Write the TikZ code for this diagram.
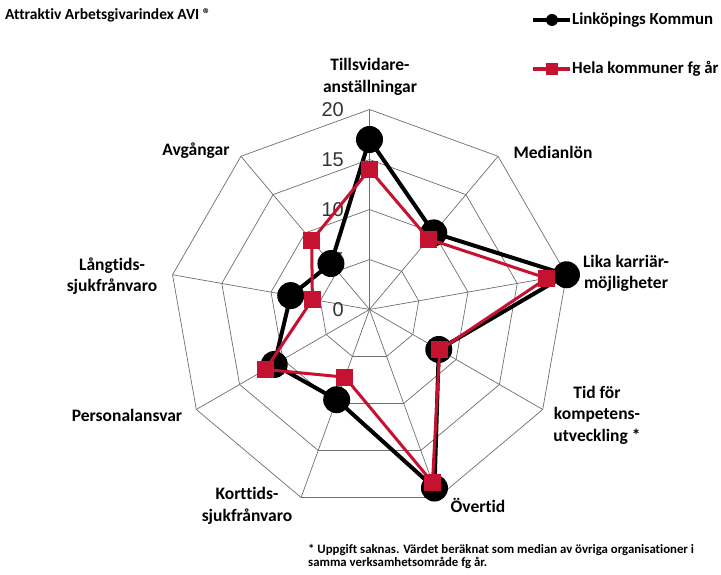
\documentclass[tikz,border=0pt]{standalone}
\usepackage{fontspec}
\setmainfont{Carlito}[Ligatures=NoCommon]
\newfontfamily\numfont{Liberation Sans}
\usetikzlibrary{calc}
\definecolor{avired}{RGB}{196,18,48}
\definecolor{gridgray}{RGB}{110,110,110}
\begin{document}
\begin{tikzpicture}[x=1pt,y=1pt,
  grid/.style={draw=gridgray, line width=0.7pt},
  lab/.style={font=\fontsize{17.5}{21.5}\selectfont\bfseries, align=center, text=black, inner sep=0pt},
  num/.style={font=\numfont\fontsize{20}{20}\selectfont, text=black!80, anchor=east, inner sep=0pt},
  blk/.style={draw=black, line width=4pt, line join=round},
  redl/.style={draw=avired, line width=3pt, line join=round},
  bdot/.style={circle, fill=black, minimum size=27pt, inner sep=0pt},
  rsq/.style={rectangle, fill=avired, minimum size=17pt, inner sep=0pt},
  lbdot/.style={circle, fill=black, minimum size=12pt, inner sep=0pt},
  lrsq/.style={rectangle, fill=avired, minimum size=12pt, inner sep=0pt},
  legtext/.style={font=\fontsize{16.8}{20}\selectfont\bfseries, anchor=west, inner sep=0pt}]
\useasboundingbox (0,0) rectangle (721,575);
\coordinate (C) at (369.5,265.5);
% grid rings
\foreach \r in {50,100,150,200} {
  \draw[grid] ($(C)+(90:\r)$) -- ($(C)+(50:\r)$) -- ($(C)+(10:\r)$) -- ($(C)+(-30:\r)$) -- ($(C)+(-70:\r)$) -- ($(C)+(-110:\r)$) -- ($(C)+(-150:\r)$) -- ($(C)+(-190:\r)$) -- ($(C)+(-230:\r)$) -- cycle;
}
% spokes
\foreach \k in {0,...,8} {
  \coordinate (s\k) at ($(C)+(90-40*\k:200)$);
  \draw[grid] (C) -- (s\k);
}
% scale numbers
\node[num] (n0) at (344,265.5) {0};
\node[num] (n5) at (344,315.5) {5};
\node[num] (n10) at (344,365.5) {10};
\node[num] (n15) at (344,415.5) {15};
\node[num] (n20) at (344,465.5) {20};
% data
\foreach \v [count=\i from 0] in {17,10,20,8,19,9.6,11,8,6}
  \coordinate (b\i) at ($(C)+(90-40*\i:10*\v)$);
\foreach \v [count=\i from 0] in {14,9.2,18,8.1,18.4,7.2,12,5.8,9}
  \coordinate (r\i) at ($(C)+(90-40*\i:10*\v)$);
\draw[blk] (b0) -- (b1) -- (b2) -- (b3) -- (b4) -- (b5) -- (b6) -- (b7) -- (b8) -- cycle;
\foreach \i in {0,...,8} \node[bdot] (bm\i) at (b\i) {};
\draw[redl] (r0) -- (r1) -- (r2) -- (r3) -- (r4) -- (r5) -- (r6) -- (r7) -- (r8) -- cycle;
\foreach \i in {0,...,8} \node[rsq] (rm\i) at (r\i) {};
% axis labels
\node[lab] (l0) at (370,498) {Tillsvidare-\\anställningar};
\node[lab] (l1) at (553,423) {Medianlön};
\node[lab] (l2) at (626,301.5) {Lika karriär-\\möjligheter};
\node[lab] (l3) at (597,160) {Tid för\\kompetens-\\utveckling *};
\node[lab] (l4) at (478,70) {Övertid};
\node[lab] (l5) at (247,69) {Korttids-\\sjukfrånvaro};
\node[lab] (l6) at (127,160) {Personalansvar};
\node[lab] (l7) at (112,299) {Långtids-\\sjukfrånvaro};
\node[lab] (l8) at (196,424) {Avgångar};
% title
\node[font=\fontsize{15.5}{18}\selectfont\bfseries, anchor=west, inner sep=0pt] (title) at (5,560) {Attraktiv Arbetsgivarindex AVI ®};
% legend
\coordinate (lb1) at (533,555);
\coordinate (lb2) at (570,555);
\draw[draw=black, line width=4pt] (lb1) -- (lb2);
\node[lbdot] (lbm) at (552,555) {};
\node[legtext] (lbt) at (572,555) {Linköpings Kommun};
\coordinate (lr1) at (533,506);
\coordinate (lr2) at (570,506);
\draw[draw=avired, line width=3.5pt] (lr1) -- (lr2);
\node[lrsq] (lrm) at (552,506) {};
\node[legtext] (lrt) at (572,506) {Hela kommuner fg år};
% footnote
\node[font=\fontsize{12.8}{13}\selectfont\bfseries, align=left, anchor=north west, inner sep=0pt] (foot) at (308,31) {* Uppgift saknas. Värdet beräknat som median av övriga organisationer i\\samma verksamhetsområde fg år.};
\end{tikzpicture}
\end{document}
